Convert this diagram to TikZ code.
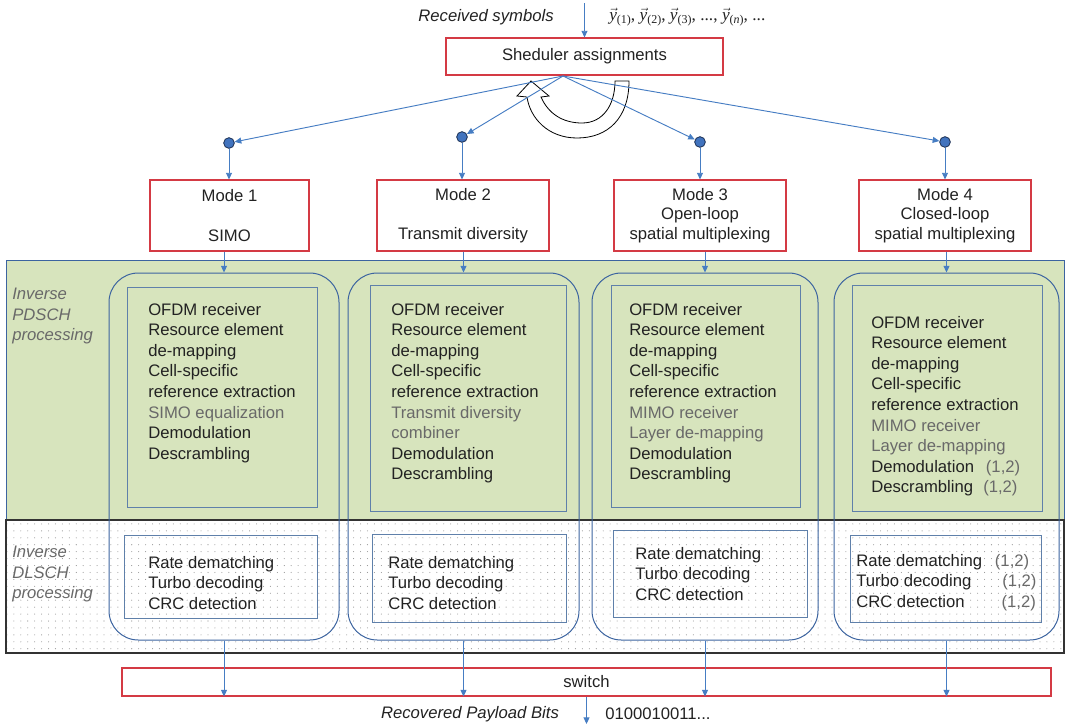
\documentclass[tikz,border=0pt]{standalone}
\usepackage{fontspec}
\setmainfont{Liberation Sans}
\newfontfamily\serifvec{Liberation Serif}
\usetikzlibrary{arrows.meta,fit,patterns.meta}
\definecolor{redb}{RGB}{212,58,68}
\definecolor{arrb}{RGB}{70,125,195}
\definecolor{grn}{RGB}{215,228,189}
\definecolor{colb}{RGB}{60,100,160}
\definecolor{inb}{RGB}{95,128,170}
\definecolor{txt}{RGB}{34,34,34}
\definecolor{gtx}{RGB}{105,105,105}
\definecolor{dotf}{RGB}{65,115,190}
\definecolor{dotd}{RGB}{25,45,80}
\newcommand{\vy}[1]{$\vec{\mbox{\serifvec\itshape y}}$\raisebox{-0.35ex}{\fontsize{9}{9}\selectfont\serifvec(#1)}}
\begin{document}
\begin{tikzpicture}[x=0.75pt,y=-0.75pt,
  font=\fontsize{12.5}{15.4}\selectfont, text=txt,
  redbox/.style={draw=redb, line width=0.8pt, inner sep=0pt, align=center},
  colbox/.style={draw=colb, line width=0.75pt, rounded corners=22pt, inner sep=0pt},
  inbox/.style={draw=inb, line width=0.75pt, inner sep=0pt},
  arr/.style={draw=arrb, line width=0.7pt, -{Triangle[length=5pt,width=4.5pt]}},
  dotn/.style={circle, draw=dotd, fill=dotf, line width=0.6pt, minimum size=8pt, inner sep=0pt},
  lst/.style={anchor=north west, align=left, inner sep=0pt},
  sidelbl/.style={anchor=north west, align=left, inner sep=0pt, text=gtx, font=\fontsize{12.5}{15.4}\selectfont\itshape}
]
\useasboundingbox (0,0) rectangle (1066,725);

% background regions
\fill[grn] (6,260) rectangle (1064,520);
\draw[colb, line width=0.75pt] (6,520) -- (6,260) -- (1064,260) -- (1064,520);
\path[pattern={Dots[distance=5.2pt, radius=0.4pt]}, pattern color=gray!85] (6,520) rectangle (1064,653);
\draw[black!80, line width=0.8pt] (6,520) rectangle (1064,653);

% side labels
\node[sidelbl] (lp) at (12,288) {Inverse\\PDSCH\\processing};
\node[sidelbl] (ld) at (12,546) {Inverse\\DLSCH\\processing};

% top
\node[font=\fontsize{12.5}{15.4}\selectfont\itshape] (rs) at (486,17) {Received symbols};
\node[anchor=west, inner sep=0pt, font=\fontsize{13}{15}\serifvec] (vec) at (609,17) {\vy{1}, \vy{2}, \vy{3}, ..., \vy{\textit{n}}, ...};
\node[redbox, fit={(446,38) (723,75)}] (sch) {};
\node (scht) at (sch.center) {Sheduler assignments};
\coordinate (in) at (584.5,3);
\draw[arr] (in) -- (sch.north);
\coordinate (o) at (563,76);

% rotating arrow
\draw[black, line width=0.6pt] (629,81) .. controls (629,118) and (608,138) .. (577,138)
  .. controls (548,138) and (530,118) .. (527,97) -- (517,96) -- (531,81) -- (549,96) -- (541,97)
  .. controls (548,113) and (562,123) .. (582,123) .. controls (603,123) and (615,105) .. (615,81) -- cycle;

% dots
\node[dotn] (d1) at (229,143) {};
\node[dotn] (d2) at (462,137) {};
\node[dotn] (d3) at (700,142) {};
\node[dotn] (d4) at (945,142) {};
\foreach \d in {d1,d2,d3,d4} \draw[arr] (o) -- (\d);

% mode boxes
\node[redbox, fit={(150,180) (309,251)}] (m1) {};
\node[redbox, fit={(377,180) (549,251)}] (m2) {};
\node[redbox, fit={(614,180) (786,251)}] (m3) {};
\node[redbox, fit={(859,180) (1031,251)}] (m4) {};
\node[align=center, inner sep=0pt] (m1t) at (m1.center) {Mode 1\\[14pt]SIMO};
\node[align=center, inner sep=0pt] (m2t) at (m2.center) {Mode 2\\[14pt]Transmit diversity};
\node[align=center, inner sep=0pt, font=\fontsize{12.5}{14.6}\selectfont] (m3t) at (m3.center) {Mode 3\\Open-loop\\spatial multiplexing};
\node[align=center, inner sep=0pt, font=\fontsize{12.5}{14.6}\selectfont] (m4t) at (m4.center) {Mode 4\\Closed-loop\\spatial multiplexing};
\draw[arr] (d1.south) -- (d1.south |- m1.north);
\draw[arr] (d2.south) -- (d2.south |- m2.north);
\draw[arr] (d3.south) -- (d3.south |- m3.north);
\draw[arr] (d4.south) -- (d4.south |- m4.north);

% columns
\node[colbox, fit={(109,273) (339,640)}] (c1) {};
\node[colbox, fit={(348,273) (579,640)}] (c2) {};
\node[colbox, fit={(592,273) (818,640)}] (c3) {};
\node[colbox, fit={(834,273) (1059,640)}] (c4) {};
\draw[arr] (m1.south -| c1.north) -- (c1.north);
\draw[arr] (m2.south -| c2.north) -- (c2.north);
\draw[arr] (m3.south -| c3.north) -- (c3.north);
\draw[arr] (m4.south -| c4.north) -- (c4.north);

% inner upper boxes
\node[inbox, fit={(127,287) (317,507)}] (u1) {};
\node[inbox, fit={(370,285) (566,511)}] (u2) {};
\node[inbox, fit={(611,285) (800,507)}] (u3) {};
\node[inbox, fit={(852,285) (1042,511)}] (u4) {};
% inner lower boxes
\node[inbox, fit={(124,535) (317,618)}] (l1) {};
\node[inbox, fit={(372,534) (566,622)}] (l2) {};
\node[inbox, fit={(613,530) (807,617)}] (l3) {};
\node[inbox, fit={(850,535) (1041,622)}] (l4) {};

% texts
\node[lst] (t1) at (148,303) {OFDM receiver\\Resource element\\de-mapping\\Cell-specific\\reference extraction\\{\color{gtx}SIMO equalization}\\Demodulation\\Descrambling};
\node[lst] (t2) at (391,303) {OFDM receiver\\Resource element\\de-mapping\\Cell-specific\\reference extraction\\{\color{gtx}Transmit diversity}\\{\color{gtx}combiner}\\Demodulation\\Descrambling};
\node[lst] (t3) at (629,303) {OFDM receiver\\Resource element\\de-mapping\\Cell-specific\\reference extraction\\{\color{gtx}MIMO receiver}\\{\color{gtx}Layer de-mapping}\\Demodulation\\Descrambling};
\node[lst] (t4) at (871,316) {OFDM receiver\\Resource element\\de-mapping\\Cell-specific\\reference extraction\\{\color{gtx}MIMO receiver}\\{\color{gtx}Layer de-mapping}\\\makebox[86pt][l]{Demodulation}{\color{gtx}(1,2)}\\\makebox[84pt][l]{Descrambling}{\color{gtx}(1,2)}};

\node[lst] (b1) at (148,556) {Rate dematching\\Turbo decoding\\CRC detection};
\node[lst] (b2) at (388,556) {Rate dematching\\Turbo decoding\\CRC detection};
\node[lst] (b3) at (635,547) {Rate dematching\\Turbo decoding\\CRC detection};
\node[lst] (b4) at (856,554) {\makebox[104pt][l]{Rate dematching}{\color{gtx}(1,2)}\\\makebox[109.5pt][l]{Turbo decoding}{\color{gtx}(1,2)}\\\makebox[109pt][l]{CRC detection}{\color{gtx}(1,2)}};

% switch
\node[redbox, fit={(122,668) (1051,696)}] (sw) {};
\node (swt) at (sw.center) {switch};
\draw[arr] (c1.south) -- (c1.south |- sw.south);
\draw[arr] (c2.south) -- (c2.south |- sw.south);
\draw[arr] (c3.south) -- (c3.south |- sw.south);
\draw[arr] (c4.south) -- (c4.south |- sw.south);
\coordinate (out) at (586.5,724);
\draw[arr] (sw.south) -- (out);
\node[font=\fontsize{12.5}{15.4}\selectfont\itshape] (rp) at (470,714) {Recovered Payload Bits};
\node[anchor=west, inner sep=0pt] (bits) at (605,714) {0100010011...};
\end{tikzpicture}
\end{document}
